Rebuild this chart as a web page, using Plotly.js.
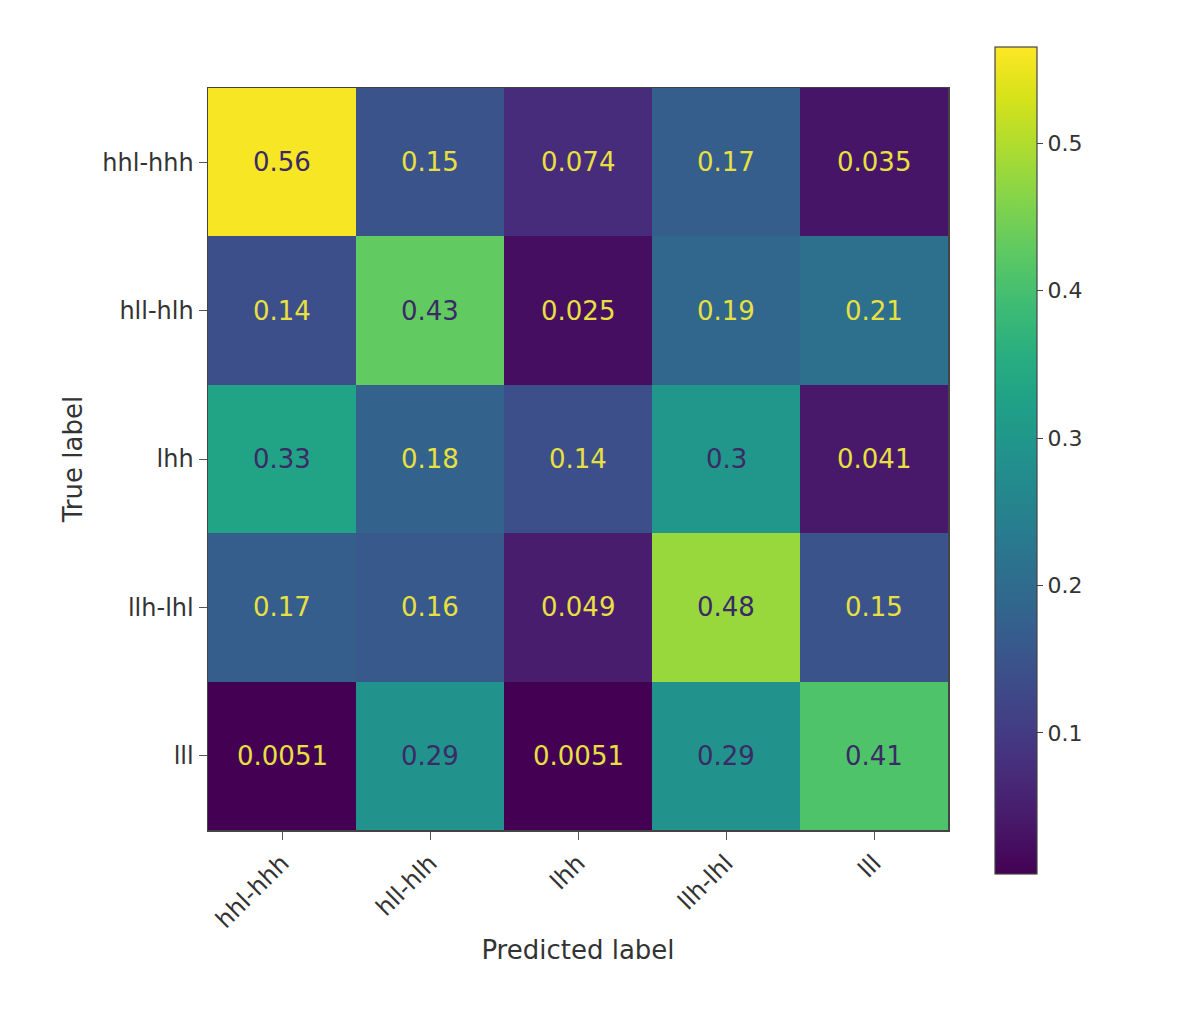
<!DOCTYPE html>
<html>
<head>
<meta charset="utf-8">
<script src="https://cdn.plot.ly/plotly-3.0.1.min.js"></script>
<style>
  html, body { margin: 0; padding: 0; background: #fff; }
  #plot { width: 1200px; height: 1023px; }
</style>
</head>
<body>
<div id="plot"></div>
<script>
// Confusion matrix values (rows = true label, cols = predicted label)
const labels = ['hhl-hhh', 'hll-hlh', 'lhh', 'llh-lhl', 'lll'];
const row_hhl = [0.56, 0.15, 0.074, 0.17, 0.035];
const row_hll = [0.14, 0.43, 0.025, 0.19, 0.21];
const row_lhh = [0.33, 0.18, 0.14, 0.3, 0.041];
const row_llh = [0.17, 0.16, 0.049, 0.48, 0.15];
const row_lll = [0.0051, 0.29, 0.0051, 0.29, 0.41];
// colour range
const cbMin = 0.0046;
const cbMax = 0.5655;
const cbTicks = [0.1, 0.2, 0.3, 0.4, 0.5];

const z = [row_hhl, row_hll, row_lhh, row_llh, row_lll];
const thresh = (cbMin + cbMax) / 2;

// cell labels, dark on bright cells, yellow on dark cells
const annotations = [];
z.forEach((row, i) => {
  row.forEach((v, j) => {
    annotations.push({
      x: labels[j], y: labels[i], xref: 'x', yref: 'y',
      text: String(v), showarrow: false,
      font: { family: 'DejaVu Sans', size: 26, color: v > thresh ? '#3a2a66' : '#e8e040' }
    });
  });
});

const heat = {
  type: 'heatmap',
  x: labels, y: labels, z: z,
  zmin: cbMin, zmax: cbMax,
  colorscale: 'Viridis',
  hoverinfo: 'skip',
  colorbar: {
    x: 1.0635, xanchor: 'left',
    y: 0.4985, yanchor: 'middle',
    len: 1.1146, lenmode: 'fraction',
    thickness: 42, thicknessmode: 'pixels',
    outlinewidth: 1.2, outlinecolor: '#444',
    tickvals: cbTicks,
    ticks: 'outside', ticklen: 6, tickcolor: '#444',
    tickfont: { family: 'DejaVu Sans', size: 22, color: '#333' },
    xpad: 0, ypad: 0
  }
};

const axisCommon = {
  type: 'category',
  showgrid: false, zeroline: false,
  showline: true, linecolor: '#444', linewidth: 1.5, mirror: true,
  ticks: 'outside', ticklen: 8, tickcolor: '#555',
  tickfont: { family: 'DejaVu Sans', size: 24, color: '#333' }
};

const layout = {
  width: 1200, height: 1023,
  margin: { l: 208, r: 252, t: 88, b: 193 },
  paper_bgcolor: '#fff', plot_bgcolor: '#fff',
  xaxis: { ...axisCommon, tickangle: -45,
    title: { text: 'Predicted label', font: { family: 'DejaVu Sans', size: 26, color: '#333' }, standoff: 8 } },
  yaxis: { ...axisCommon, autorange: 'reversed',
    title: { text: 'True label', font: { family: 'DejaVu Sans', size: 26, color: '#333' }, standoff: 12 } },
  annotations: annotations,
  showlegend: false
};

Plotly.newPlot('plot', [heat], layout, { displayModeBar: false, staticPlot: true });
</script>
</body>
</html>
